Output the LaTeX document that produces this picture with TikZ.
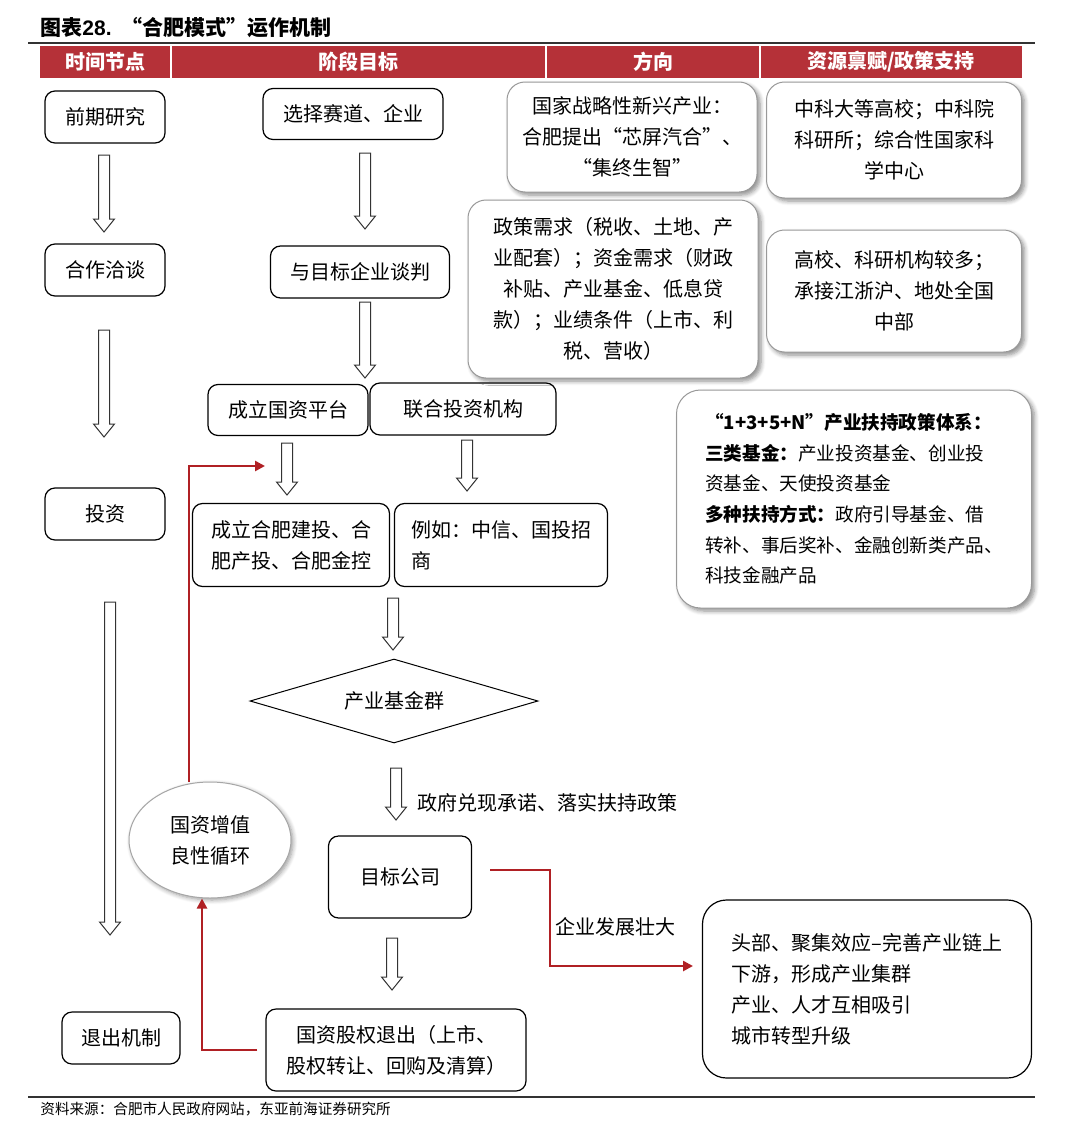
\documentclass[tikz,border=0pt]{standalone}
\usepackage{fontspec}
\setmainfont{Noto Sans CJK SC}
\newfontfamily\arialfont{Liberation Sans}
\usetikzlibrary{arrows.meta,positioning,shapes.geometric,shadows.blur}
\definecolor{hdrred}{RGB}{181,49,56}
\definecolor{linered}{RGB}{176,32,36}
\newcommand{\hollowdown}[3]{\draw[hollow] (#1-5.5,#2) -- (#1+5.5,#2) -- (#1+5.5,#3-13) -- (#1+10.5,#3-13)
  -- (#1,#3) -- (#1-10.5,#3-13) -- (#1-5.5,#3-13) -- cycle;}

\begin{document}
\begin{tikzpicture}[
  x=0.5pt,y=-0.5pt,
  font=\fontsize{10}{15.5}\selectfont,
  >={Triangle[length=5pt,width=5pt]},
  stagebox/.style={draw=black,line width=0.6pt,rounded corners=5pt,align=center,inner sep=2pt,fill=white},
  softbox/.style={draw=black!40,line width=0.5pt,rounded corners=9pt,fill=white,align=center,inner sep=2pt,
                  blur shadow={shadow xshift=1.5pt,shadow yshift=-1.5pt,shadow blur steps=6,shadow opacity=45}},
  hollow/.style={draw=black!80,line width=0.5pt,fill=white},
  redarr/.style={->,draw=linered,line width=1.3pt},
  hdr/.style={text=white,font=\fontsize{10}{12}\selectfont\bfseries},
]
\useasboundingbox (0,0) rectangle (1080,1124);

% ---- title and header ----
\node[anchor=base west,font=\fontsize{10.5}{12}\selectfont\bfseries,inner sep=0] (title) at (40,35)
  {图表{\arialfont 28.}\ \ “合肥模式”运作机制};
\draw[line width=1pt,black!80] (28,43) -- (1035,43);
\fill[hdrred] (40,46) rectangle (1022,78);
\foreach \x in {171,546,760} \draw[white,line width=1pt] (\x,46) -- (\x,78);
\node[hdr] (h1) at (105.5,62) {时间节点};
\node[hdr] (h2) at (358.5,62) {阶段目标};
\node[hdr] (h3) at (653,62) {方向};
\node[hdr] (h4) at (891,62) {资源禀赋/政策支持};

% ---- time column ----
\node[stagebox,minimum width=60pt,minimum height=26pt] (early) at (105,117) {前期研究};
\node[stagebox,minimum width=60pt,minimum height=26pt] (talk) at (105,270) {合作洽谈};
\node[stagebox,minimum width=60pt,minimum height=26pt] (invest) at (105,514) {投资};
\node[stagebox,minimum width=59pt,minimum height=26pt] (exitmech) at (121,1038) {退出机制};

% ---- stage column ----
\node[stagebox,minimum width=90pt,minimum height=25.5pt] (choose) at (353,114) {选择赛道、企业};
\node[stagebox,minimum width=89.5pt,minimum height=26pt] (negot) at (360,272) {与目标企业谈判};
\node[stagebox,minimum width=80pt,minimum height=25.5pt] (platform) at (288,410) {成立国资平台};
\node[stagebox,minimum width=93pt,minimum height=26pt] (partner) at (463,409) {联合投资机构};
\node[stagebox,minimum width=98.5pt,minimum height=41.5pt,align=left] (stateco) at (291,545)
  {成立合肥建投、合\\肥产投、合肥金控};
\node[stagebox,minimum width=106.5pt,minimum height=41.5pt,align=left] (eg) at (501,545)
  {例如：中信、国投招\\商};
\node[diamond,draw=black,line width=0.5pt,minimum width=144pt,minimum height=42pt,aspect=3.4,inner sep=0pt]
  (fund) at (394,701) {产业基金群};
\node[anchor=west,inner sep=0] (promise) at (417,803) {政府兑现承诺、落实扶持政策};
\node[stagebox,minimum width=71.5pt,minimum height=41pt] (target) at (400,877) {目标公司};
\node[stagebox,minimum width=130pt,minimum height=41pt] (exit) at (396,1050)
  {国资股权退出（上市、\\股权转让、回购及清算）};
\node[ellipse,draw=black!35,fill=white,line width=0.5pt,minimum width=81pt,minimum height=58pt,align=center,
      blur shadow={shadow xshift=1pt,shadow yshift=-1pt,shadow blur steps=6,shadow opacity=40}]
  (loop) at (210,840) {国资增值\\良性循环};

% ---- direction and resources ----
\node[softbox,minimum width=125pt,minimum height=55pt] (dirA) at (632,137)
  {国家战略性新兴产业：\\合肥提出“芯屏汽合”、\\“集终生智”};
\node[softbox,minimum width=145pt,minimum height=89pt] (dirB) at (613,289)
  {政策需求（税收、土地、产\\业配套）；资金需求（财政\\补贴、产业基金、低息贷\\款）；业绩条件（上市、利\\税、营收）};
\node[softbox,minimum width=127.5pt,minimum height=58pt] (resA) at (894,140)
  {中科大等高校；中科院\\科研所；综合性国家科\\学中心};
\node[softbox,minimum width=127.5pt,minimum height=61pt] (resB) at (894,291)
  {高校、科研机构较多；\\承接江浙沪、地处全国\\中部};
\node[softbox,rounded corners=12pt,minimum width=177.5pt,minimum height=109pt,align=left,
      font=\fontsize{9.3}{15.3}\selectfont] (policy) at (854,499)
  {\textbf{“1+3+5+N”产业扶持政策体系：}\\\textbf{三类基金：}产业投资基金、创业投\\资基金、天使投资基金\\
   \textbf{多种扶持方式：}政府引导基金、借\\转补、事后奖补、金融创新类产品、\\科技金融产品};
\node[stagebox,rounded corners=12pt,minimum width=164.5pt,minimum height=89pt,align=left] (effect) at (867,989)
  {头部、聚集效应–完善产业链上\\下游，形成产业集群\\产业、人才互相吸引\\城市转型升级};
\node (grows) at (615,927) {企业发展壮大};

% ---- hollow arrows ----
\foreach \x/\a/\b in {104/155/232,104/330/437,110/602/935,365/153/229,365/302/378,
                      287/443/495,467/440/491,393/598/650,396/768/820,392/938/990}
  {\hollowdown{\x}{\a}{\b}}

% ---- red loop ----
\coordinate (reentry) at (265,466);
\coordinate (grow) at (693,966);
\draw[redarr] ([xshift=-10.5pt]loop.north) |- (reentry);
\draw[redarr] ([xshift=-4pt]exit.west) -| ([xshift=-4pt]loop.south);
\draw[redarr] ([xshift=9pt,yshift=3.5pt]target.east) -- ++(60,0) |- (grow);

% ---- source ----
\draw[line width=1pt,black!80] (28,1097) -- (1035,1097);
\node[anchor=west,font=\fontsize{7.3}{9}\selectfont,inner sep=0] (src) at (40,1109)
  {资料来源：合肥市人民政府网站，东亚前海证券研究所};
\end{tikzpicture}
\end{document}
